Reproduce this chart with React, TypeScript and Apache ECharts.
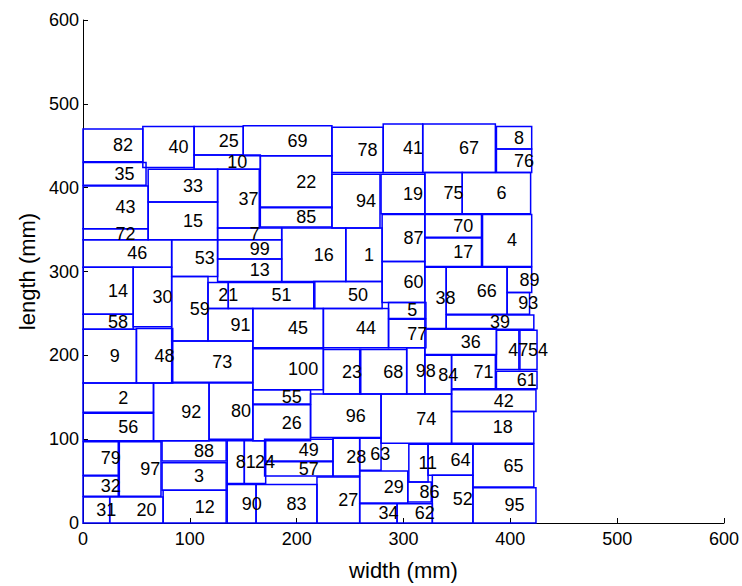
import React, { useEffect, useRef } from "react";
import * as echarts from "echarts";

const boxIds = [
  1, 2, 3, 4, 5, 6, 7, 8, 9, 10, 11, 12, 13, 14, 15, 16, 17, 18, 19, 20,
  21, 22, 23, 24, 25, 26, 27, 28, 29, 30, 31, 32, 33, 34, 35, 36, 37, 38, 39, 40,
  41, 42, 43, 44, 45, 46, 47, 48, 49, 50, 51, 52, 53, 54, 55, 56, 57, 58, 59, 60,
  61, 62, 63, 64, 65, 66, 67, 68, 69, 70, 71, 72, 73, 74, 75, 76, 77, 78, 79, 80,
  81, 82, 83, 84, 85, 86, 87, 88, 89, 90, 91, 92, 93, 94, 95, 96, 97, 98, 99, 100,
];
const boxX = [
  246, 0, 74, 374, 286, 355, 126, 387, 0, 104, 305, 75, 126, 0, 61, 186, 320, 345, 279, 25,
  117, 166, 225, 151, 104, 159, 219, 234, 259, 47, 0, 0, 61, 259, 0, 320, 126, 320, 340, 56,
  281, 345, 0, 225, 159, 0, 387, 50, 170, 216, 136, 327, 83, 408, 159, 0, 170, 0, 83, 280,
  387, 294, 259, 323, 365, 340, 318, 259, 150, 320, 345, 0, 83, 279, 320, 387, 286, 233, 0, 118,
  135, 0, 162, 320, 166, 304, 280, 74, 397, 135, 117, 66, 397, 233, 365, 213, 34, 303, 126, 159,
];
const boxY = [
  288, 132, 39, 306, 244, 369, 338, 446, 167, 422, 49, 0, 288, 249, 338, 288, 306, 95, 369, 0,
  256, 376, 154, 47, 439, 98, 0, 56, 24, 234, 0, 32, 383, 0, 403, 201, 352, 231, 231, 424,
  418, 133, 351, 209, 209, 305, 183, 167, 74, 256, 256, 0, 294, 183, 142, 98, 56, 231, 217, 263,
  160, 0, 63, 57, 43, 249, 418, 154, 438, 341, 160, 338, 168, 95, 369, 418, 209, 418, 57, 100,
  47, 431, 0, 154, 353, 25, 312, 74, 275, 0, 217, 98, 249, 352, 0, 102, 32, 154, 315, 159,
];
const boxW = [
  34, 66, 60, 46, 35, 64, 60, 33, 50, 62, 18, 59, 60, 47, 65, 60, 53, 77, 41, 50,
  19, 67, 35, 20, 46, 54, 40, 25, 45, 36, 25, 33, 65, 35, 59, 67, 39, 20, 82, 48,
  37, 79, 61, 61, 66, 83, 22, 34, 64, 64, 81, 38, 43, 17, 54, 66, 64, 47, 34, 40,
  38, 33, 20, 42, 57, 57, 68, 44, 83, 53, 41, 61, 76, 66, 35, 33, 35, 48, 33, 41,
  16, 56, 57, 25, 67, 22, 40, 60, 23, 27, 42, 52, 21, 45, 59, 66, 39, 17, 60, 66,
];
const boxH = [
  64, 35, 33, 62, 19, 49, 14, 27, 64, 17, 45, 39, 27, 56, 45, 64, 34, 38, 47, 31,
  31, 62, 53, 51, 34, 43, 55, 45, 38, 71, 31, 24, 39, 23, 27, 31, 70, 74, 17, 49,
  58, 26, 51, 47, 47, 33, 47, 65, 26, 32, 31, 57, 44, 47, 17, 33, 17, 18, 77, 49,
  21, 23, 38, 37, 51, 56, 58, 53, 36, 27, 40, 13, 49, 59, 49, 28, 34, 54, 40, 67,
  51, 39, 46, 46, 24, 24, 56, 24, 30, 46, 39, 69, 26, 64, 42, 52, 65, 55, 23, 49,
];

const xTicks = [0, 100, 200, 300, 400, 500, 600];
const yTicks = [0, 100, 200, 300, 400, 500, 600];

const FONT = "'Liberation Sans', Arial, Helvetica, sans-serif";

export default function App() {
  const ref = useRef<HTMLDivElement>(null);
  useEffect(() => {
    if (!ref.current) return;
    const chart = echarts.init(ref.current, null, { renderer: "svg" });
    const data = boxIds.map((id, i) => [boxX[i], boxY[i], boxW[i], boxH[i], id]);
    const axisCommon = {
      type: "value" as const,
      interval: 100,
      splitLine: { show: false },
      axisLine: { show: true, onZero: false, lineStyle: { color: "#000", width: 1 } },
      axisTick: { show: true, inside: true, length: 5, lineStyle: { color: "#000" } },
      axisLabel: { color: "#000", fontSize: 18, fontFamily: FONT },
      nameLocation: "middle" as const,
      nameTextStyle: { color: "#000", fontSize: 22, fontFamily: FONT },
    };
    chart.setOption({
      animation: false,
      backgroundColor: "#fff",
      grid: { left: 83, right: 18, top: 20, bottom: 61, containLabel: false },
      xAxis: {
        ...axisCommon,
        min: xTicks[0],
        max: xTicks[xTicks.length - 1],
        name: "width (mm)",
        nameGap: 36,
        axisLabel: { ...axisCommon.axisLabel, margin: 7 },
      },
      yAxis: {
        ...axisCommon,
        min: yTicks[0],
        max: yTicks[yTicks.length - 1],
        name: "length (mm)",
        nameGap: 43,
        axisLabel: { ...axisCommon.axisLabel, margin: 4 },
      },
      series: [
        {
          type: "custom",
          coordinateSystem: "cartesian2d",
          data,
          clip: false,
          renderItem: (params: any, api: any) => {
            const x0 = api.value(0);
            const y0 = api.value(1);
            const w = api.value(2);
            const h = api.value(3);
            const id = api.value(4);
            const p1 = api.coord([x0, y0 + h]);
            const p2 = api.coord([x0 + w, y0]);
            const cx = (p1[0] + p2[0]) / 2;
            const cy = (p1[1] + p2[1]) / 2;
            return {
              type: "group",
              children: [
                {
                  type: "rect",
                  shape: { x: p1[0], y: p1[1], width: p2[0] - p1[0], height: p2[1] - p1[1] },
                  style: { fill: "none", stroke: "#0000ff", lineWidth: 1.5 },
                },
                {
                  type: "text",
                  z2: 10,
                  style: {
                    x: cx,
                    y: cy,
                    text: String(id),
                    fill: "#000",
                    font: `18px ${FONT}`,
                    align: "left",
                    verticalAlign: "middle",
                  },
                },
              ],
            };
          },
        },
      ],
    });
    return () => chart.dispose();
  }, []);
  return (
    <div
      ref={ref}
      style={{ position: "fixed", left: 0, top: 0, width: 742, height: 586, background: "#fff" }}
    />
  );
}
